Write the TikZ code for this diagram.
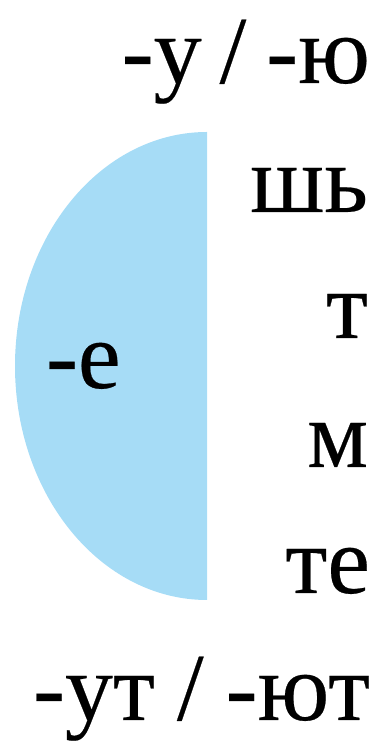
\documentclass[tikz,border=0pt]{standalone}
\usepackage{fontspec}
\setmainfont[FakeBold=0.25]{Liberation Serif}
\definecolor{halfblue}{RGB}{166,220,246}
\begin{document}
\begin{tikzpicture}[x=1pt,y=1pt,
  lbl/.style={inner sep=0pt,outer sep=0pt,anchor=base east,font=\fontsize{96}{96}\selectfont}]
\useasboundingbox (0,0) rectangle (380,744);
\fill[halfblue] (207,612) arc[start angle=90,end angle=270,x radius=192,y radius=234] -- cycle;
\node[lbl] (top) at (370,661) {-у\hspace{-6pt} / \hspace{-4pt}-ю};
\node[lbl] (shj) at (368,532) {шь};
\node[lbl] (t) at (368,406) {т};
\node[lbl] (m) at (368,277) {м};
\node[lbl] (te) at (370,151) {те};
\node[lbl] (bot) at (370,24) {-ут\hspace{-2pt} / \hspace{-2pt}-ют};
\node[lbl,anchor=base west] (e) at (46,356) {-е};
\end{tikzpicture}
\end{document}
